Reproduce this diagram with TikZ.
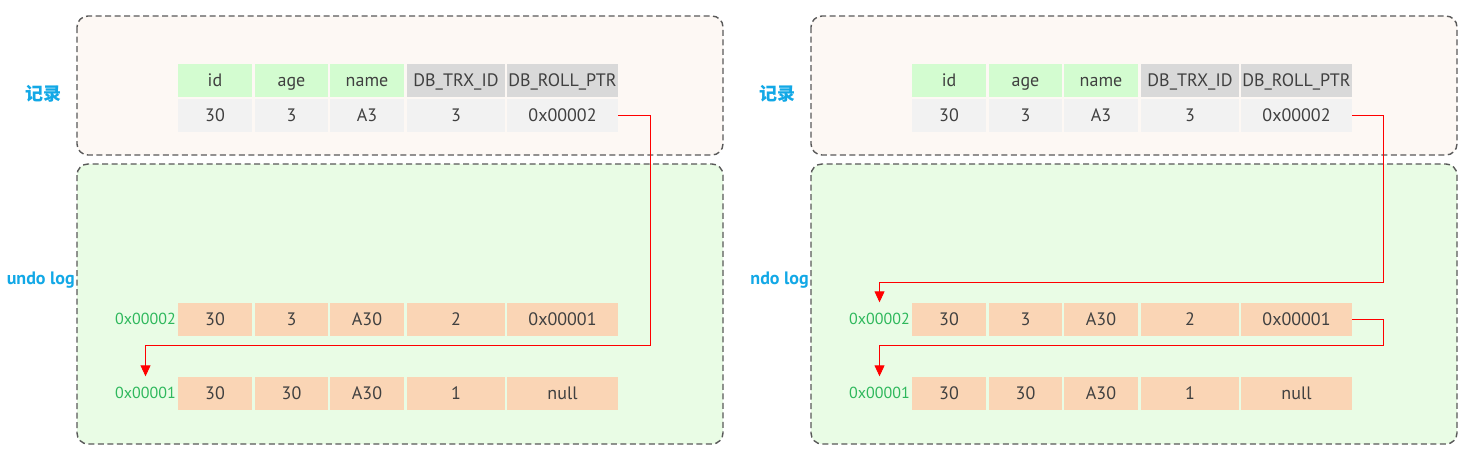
\documentclass[tikz,border=0pt]{standalone}
\usepackage{fontspec}
\setmainfont{PT Sans}
\newfontfamily\cjk{Noto Sans CJK SC}
\usetikzlibrary{arrows.meta}

\definecolor{recfill}{HTML}{FDF8F4}
\definecolor{logfill}{HTML}{E9FCE5}
\definecolor{headgreen}{HTML}{D3FCD0}
\definecolor{headgray}{HTML}{D9D9D9}
\definecolor{rowgray}{HTML}{F2F2F2}
\definecolor{logcell}{HTML}{FAD5B5}
\definecolor{labelblue}{HTML}{12A8E6}
\definecolor{addrgreen}{HTML}{2EB85C}
\definecolor{txtgray}{HTML}{404040}

\begin{document}
\begin{tikzpicture}[x=1pt,y=-1pt,
    panelbox/.style={draw=black!65,line width=1.4pt,dash pattern=on 6pt off 3.5pt,rounded corners=11pt},
    cell/.style={minimum height=33pt,inner sep=0pt,text height=15pt,text depth=3pt,text=txtgray,font=\fontsize{18}{18}\selectfont},
    addr/.style={minimum height=33pt,inner sep=0pt,text height=13.5pt,text depth=3pt,text=addrgreen,font=\fontsize{16}{16}\selectfont},
    side/.style={text=labelblue,font=\fontsize{18}{18}\selectfont\bfseries,inner sep=0pt},
    link/.style={red,line width=0.9pt,-{Triangle[width=10pt,length=11pt]}}]
    \useasboundingbox (0,0) rectangle (1465,458);
    \foreach \s/\n/\u in {0/L/undo log,734/R/ndo log}{
        \begin{scope}[xshift=\s pt,name prefix=\n]
            % the two dashed areas
            \draw[panelbox,fill=recfill] (77,16) rectangle (723,155);
            \draw[panelbox,fill=logfill] (77,164) rectangle (723,444);
            \node[side,font=\cjk\fontsize{18}{18}\selectfont\bfseries] (rec) at (43,94) {记录};
            \node[side,anchor=east] (log) at (75,280) {\u};
            % table: header, record row, two undo log rows
            \foreach \i/\cx/\w/\hc/\h/\r/\a/\b in {
                1/215/74/headgreen/id/30/30/30,
                2/291.5/73/headgreen/age/3/3/30,
                3/367/74/headgreen/name/A3/A30/A30,
                4/456/98/headgray/DB\_TRX\_ID/3/2/1,
                5/562.5/111/headgray/DB\_ROLL\_PTR/0x00002/0x00001/null}{
                \node[cell,fill=\hc,minimum width=\w pt] (h\i) at (\cx,80) {\h};
                \node[cell,fill=rowgray,minimum width=\w pt] (r\i) at (\cx,115) {\r};
                \node[cell,fill=logcell,minimum width=\w pt] (u\i) at (\cx,319) {\a};
                \node[cell,fill=logcell,minimum width=\w pt] (v\i) at (\cx,393) {\b};
            }
            \node[addr,anchor=east] (a2) at (176,319) {0x00002};
            \node[addr,anchor=east] (a1) at (176,393) {0x00001};
        \end{scope}
    }
    % roll pointers
    \draw[link] (Lr5.east) -| (650,345) -| (La1.north);
    \draw[link] (Rr5.east) -| (1383,282) -| (Ra2.north);
    \draw[link] (Ru5.east) -| (1383,345) -| (Ra1.north);
\end{tikzpicture}
\end{document}
